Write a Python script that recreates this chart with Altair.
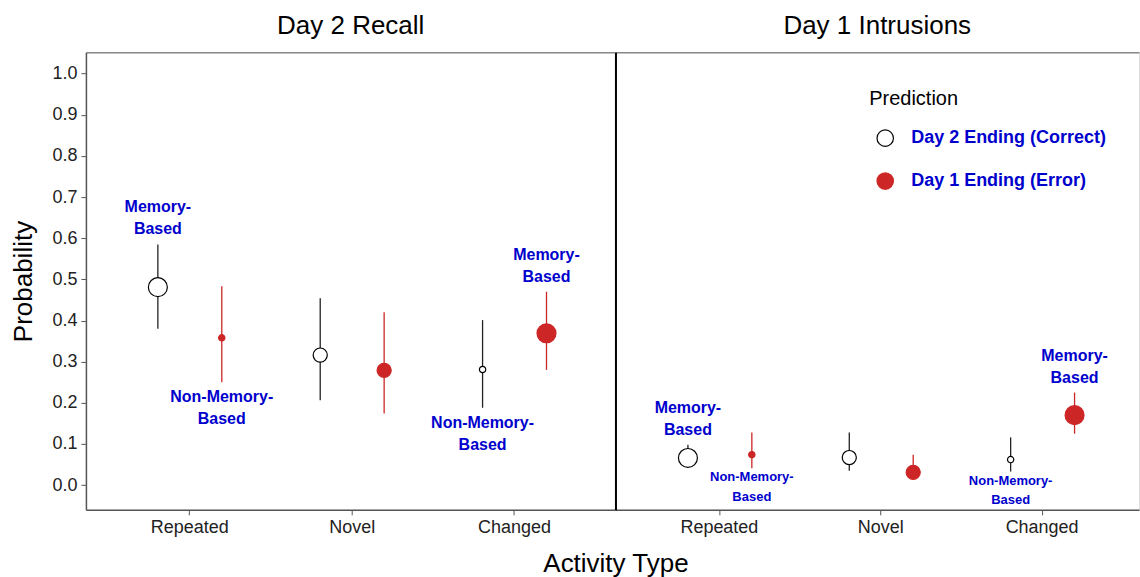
import altair as alt
import pandas as pd

# ---- data ----
panel_names = ["Day 2 Recall", "Day 1 Intrusions"]
activity_order = ["Repeated", "Novel", "Changed"]
pred_order = ["Day 2 Ending (Correct)", "Day 1 Ending (Error)"]

panels = ["Day 2 Recall"] * 6 + ["Day 1 Intrusions"] * 6
activities = ["Repeated", "Repeated", "Novel", "Novel", "Changed", "Changed"] * 2
preds = ["Day 2 Ending (Correct)", "Day 1 Ending (Error)"] * 6
prob = [0.481, 0.358, 0.316, 0.279, 0.281, 0.369,
        0.066, 0.074, 0.067, 0.031, 0.062, 0.170]
lo = [0.380, 0.250, 0.206, 0.174, 0.188, 0.280,
      0.045, 0.041, 0.035, 0.015, 0.033, 0.125]
hi = [0.585, 0.483, 0.454, 0.420, 0.401, 0.470,
      0.098, 0.128, 0.128, 0.074, 0.116, 0.225]
weight = ["large", "small", "medium", "medium", "small", "large"] * 2
labels = ["Memory-\nBased", "Non-Memory-\nBased", "", "", "Non-Memory-\nBased", "Memory-\nBased"] * 2
placement = ["above", "below", "", "", "below", "above"] * 2
label_class = ["big", "big", "", "", "big", "big",
               "big", "small", "", "", "small", "big"]

df = pd.DataFrame({
    "panel": panels, "activity": activities, "pred": preds,
    "prob": prob, "lo": lo, "hi": hi, "weight": weight,
    "label": labels, "place": placement, "lclass": label_class,
})

FONT = "Liberation Sans"
RED = "#CD2626"
BLUE = "#0000CD"

legend = alt.Legend(
    orient="none", legendX=784, legendY=37, title="Prediction",
    titleFontSize=20, titleFontWeight="normal", titleColor="black", titleFont=FONT,
    labelFontSize=18, labelFontWeight="bold", labelColor=BLUE, labelFont=FONT,
    labelLimit=400,
    symbolSize=270, symbolStrokeWidth=1.2, rowPadding=21, titlePadding=20,
    symbolOffset=7, labelOffset=17, padding=0,
)

fill_scale = alt.Scale(domain=pred_order, range=["white", RED])
stroke_scale = alt.Scale(domain=pred_order, range=["black", RED])
y_scale = alt.Scale(domain=[-0.06, 1.052], nice=False, zero=False)

AXIS_GREY = "#555555"


def make_panel(name, first, width, pad_outer, align):
    base = alt.Chart(df).transform_filter(alt.datum.panel == name)
    x_scale = alt.Scale(paddingInner=0, paddingOuter=pad_outer, align=align)
    common_x = dict(orient="bottom", labelFontSize=18, labelColor="#222", labelAngle=0,
                    labelPadding=4, tickSize=5, tickColor=AXIS_GREY,
                    domainColor=AXIS_GREY, domainWidth=1.5, grid=False)
    if first:
        x_axis = alt.Axis(title="Activity Type", titleX=width, titleY=54,
                          titleBaseline="middle", titleAlign="center",
                          titleFontSize=26, titleFontWeight="normal", titleColor="black",
                          **common_x)
        y_axis = alt.Axis(title="Probability", values=[i / 10 for i in range(11)],
                          format=".1f", titleFontSize=26, titleFontWeight="normal",
                          titleColor="black", titlePadding=15,
                          labelFontSize=18, labelColor="#222", labelPadding=4,
                          tickSize=5, tickColor=AXIS_GREY, domainColor=AXIS_GREY,
                          domainWidth=1.5, grid=False)
    else:
        x_axis = alt.Axis(title=None, **common_x)
        y_axis = alt.Axis(title=None, labels=False, ticks=False, domainColor="black",
                          domainWidth=2, grid=False)
    top_axis = alt.Axis(orient="top", title=None, labels=False, ticks=False,
                        domainColor="#888888", domainWidth=1.5, grid=False)

    xo = alt.XOffset("pred:N", sort=pred_order,
                     scale=alt.Scale(type="point", padding=0.77))

    rules = base.mark_rule(strokeWidth=1.3).encode(
        x=alt.X("activity:N", sort=activity_order, scale=x_scale, axis=top_axis),
        xOffset=xo,
        y=alt.Y("lo:Q", scale=y_scale, axis=y_axis),
        y2="hi:Q",
        color=alt.condition(alt.datum.pred == pred_order[0],
                            alt.value("#222"), alt.value(RED)),
    )
    x = alt.X("activity:N", sort=activity_order, scale=x_scale, axis=x_axis)
    points = base.mark_point(shape="circle", filled=True, opacity=1,
                             strokeWidth=1.2).encode(
        x=x, xOffset=xo,
        y=alt.Y("prob:Q", scale=y_scale, axis=y_axis),
        fill=alt.Fill("pred:N", scale=fill_scale, legend=legend),
        stroke=alt.Stroke("pred:N", scale=stroke_scale, legend=legend),
        size=alt.Size("weight:N", scale=alt.Scale(domain=["small", "medium", "large"],
                                                  range=[40, 360, 600]), legend=None),
    )
    layers = [points]
    specs = [
        ("above", "big", "hi", "bottom", -29, 16, 22),
        ("below", "big", "lo", "top", 7, 16, 22),
        ("below", "small", "lo", "top", 3, 13, 20),
    ]
    for place, cls, field, bl, dy, fs, lh in specs:
        t = base.transform_filter(
            (alt.datum.place == place) & (alt.datum.lclass == cls)
        ).mark_text(baseline=bl, dy=dy, fontSize=fs, lineHeight=lh, fontWeight="bold",
                    color=BLUE, font=FONT, lineBreak="\n", align="center").encode(
            x=x, xOffset=xo,
            y=alt.Y(f"{field}:Q", scale=y_scale, axis=y_axis),
            text="label:N",
        )
        layers.append(t)
    inner = alt.layer(*layers)
    return alt.layer(rules, inner).resolve_axis(x="independent").properties(
        width=width, height=458,
        title=alt.TitleParams(text=name, fontSize=26, fontWeight="normal",
                              color="black", font=FONT, offset=13),
    )


left = make_panel(panel_names[0], True, 530, 0.1308, 0.535)
right = make_panel(panel_names[1], False, 524, 0.1223, 0.589)

chart = alt.hconcat(left, right, spacing=0, bounds="flush").resolve_scale(
    x="independent", y="independent"
).properties(
    padding={"left": 10, "top": 12, "right": 0, "bottom": 0}
).configure_view(
    stroke=None
).configure(
    font=FONT
)

chart.save("out.html", embed_options={"renderer": "svg", "actions": False})
